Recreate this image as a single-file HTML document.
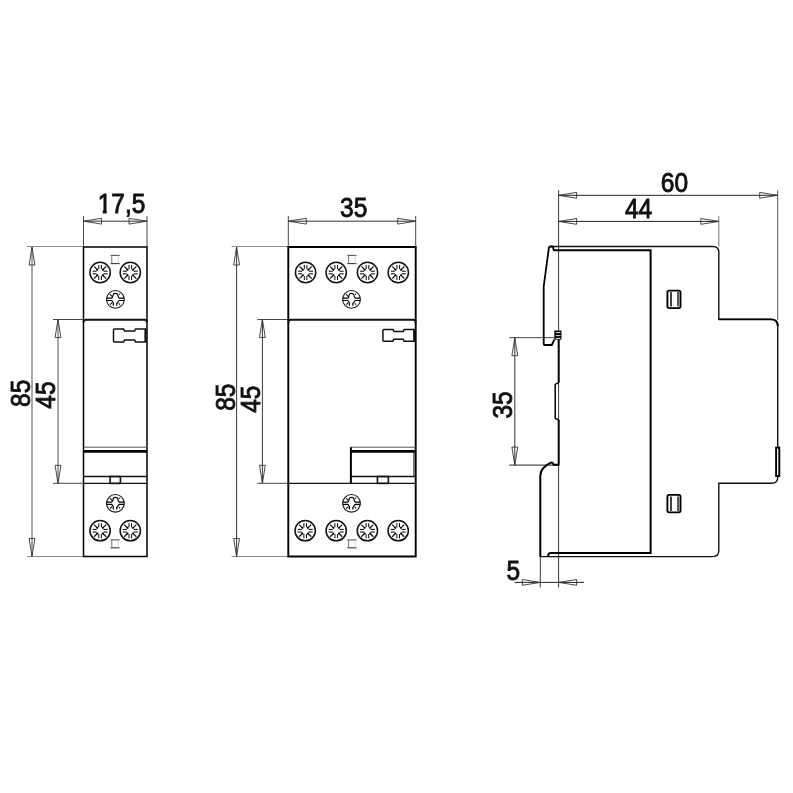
<!DOCTYPE html>
<html><head><meta charset="utf-8"><style>
html,body{margin:0;padding:0;background:#fff;width:793px;height:793px;overflow:hidden}
svg{display:block;will-change:transform}
text{font-family:"Liberation Sans",sans-serif}
</style></head><body>
<svg width="793" height="793" viewBox="0 0 793 793">
<rect width="793" height="793" fill="#fff"/>
<line x1="27" y1="246.5" x2="83.5" y2="246.5" stroke="#8a8a8a" stroke-width="1"/>
<line x1="27" y1="556.5" x2="83.5" y2="556.5" stroke="#8a8a8a" stroke-width="1"/>
<line x1="32" y1="247" x2="32" y2="556.5" stroke="#555" stroke-width="1"/>
<path d="M29.10,265.00 L32.00,247.00 L34.90,265.00 Z" fill="none" stroke="#333" stroke-width="0.9" stroke-linejoin="miter"/>
<path d="M29.10,538.50 L32.00,556.50 L34.90,538.50 Z" fill="none" stroke="#333" stroke-width="0.9" stroke-linejoin="miter"/>
<line x1="53" y1="319.5" x2="83.5" y2="319.5" stroke="#444" stroke-width="1"/>
<line x1="53" y1="483.3" x2="83.5" y2="483.3" stroke="#444" stroke-width="1"/>
<line x1="58" y1="319.5" x2="58" y2="483.3" stroke="#555" stroke-width="1"/>
<path d="M55.10,337.50 L58.00,319.50 L60.90,337.50 Z" fill="none" stroke="#333" stroke-width="0.9" stroke-linejoin="miter"/>
<path d="M55.10,465.30 L58.00,483.30 L60.90,465.30 Z" fill="none" stroke="#333" stroke-width="0.9" stroke-linejoin="miter"/>
<text x="0" y="0" transform="translate(29.8,393.3) rotate(-90) scale(1,1.1)" font-size="24.5" text-anchor="middle" fill="#111" stroke="#111" stroke-width="0.8">85</text>
<text x="0" y="0" transform="translate(55,395) rotate(-90) scale(1,1.1)" font-size="24.5" text-anchor="middle" fill="#111" stroke="#111" stroke-width="0.8">45</text>
<line x1="83.5" y1="216" x2="83.5" y2="247" stroke="#333" stroke-width="0.9"/>
<line x1="147" y1="216" x2="147" y2="247" stroke="#333" stroke-width="0.9"/>
<line x1="83.5" y1="221.2" x2="147" y2="221.2" stroke="#333" stroke-width="1"/>
<path d="M101.50,218.30 L83.50,221.20 L101.50,224.10 Z" fill="none" stroke="#333" stroke-width="0.9" stroke-linejoin="miter"/>
<path d="M129.00,218.30 L147.00,221.20 L129.00,224.10 Z" fill="none" stroke="#333" stroke-width="0.9" stroke-linejoin="miter"/>
<path d="M83.5,247 L147,247 L147,556.5 L83.5,556.5 Z" fill="none" stroke="#000" stroke-width="1.5"/>
<g transform="translate(100.1,272.5)">
<circle r="10.15" fill="none" stroke="#111" stroke-width="1.5"/>
<line x1="3.40" y1="-1.30" x2="7.50" y2="-1.30" stroke="#000" stroke-width="1.0"/>
<line x1="3.40" y1="1.30" x2="7.50" y2="1.30" stroke="#000" stroke-width="1.0"/>
<line x1="-3.40" y1="1.30" x2="-7.50" y2="1.30" stroke="#000" stroke-width="1.0"/>
<line x1="-3.40" y1="-1.30" x2="-7.50" y2="-1.30" stroke="#000" stroke-width="1.0"/>
<line x1="1.30" y1="3.40" x2="1.30" y2="7.50" stroke="#000" stroke-width="1.0"/>
<line x1="-1.30" y1="3.40" x2="-1.30" y2="7.50" stroke="#000" stroke-width="1.0"/>
<line x1="-1.30" y1="-3.40" x2="-1.30" y2="-7.50" stroke="#000" stroke-width="1.0"/>
<line x1="1.30" y1="-3.40" x2="1.30" y2="-7.50" stroke="#000" stroke-width="1.0"/>
<line x1="2.26" y1="2.26" x2="6.08" y2="6.08" stroke="#111" stroke-width="1.2"/>
<circle cx="2.83" cy="2.83" r="1.0" fill="#000"/>
<line x1="-2.26" y1="2.26" x2="-6.08" y2="6.08" stroke="#111" stroke-width="1.2"/>
<circle cx="-2.83" cy="2.83" r="1.0" fill="#000"/>
<line x1="-2.26" y1="-2.26" x2="-6.08" y2="-6.08" stroke="#111" stroke-width="1.2"/>
<circle cx="-2.83" cy="-2.83" r="1.0" fill="#000"/>
<line x1="2.26" y1="-2.26" x2="6.08" y2="-6.08" stroke="#111" stroke-width="1.2"/>
<circle cx="2.83" cy="-2.83" r="1.0" fill="#000"/>
</g>
<g transform="translate(130.3,272.5)">
<circle r="10.15" fill="none" stroke="#111" stroke-width="1.5"/>
<line x1="3.40" y1="-1.30" x2="7.50" y2="-1.30" stroke="#000" stroke-width="1.0"/>
<line x1="3.40" y1="1.30" x2="7.50" y2="1.30" stroke="#000" stroke-width="1.0"/>
<line x1="-3.40" y1="1.30" x2="-7.50" y2="1.30" stroke="#000" stroke-width="1.0"/>
<line x1="-3.40" y1="-1.30" x2="-7.50" y2="-1.30" stroke="#000" stroke-width="1.0"/>
<line x1="1.30" y1="3.40" x2="1.30" y2="7.50" stroke="#000" stroke-width="1.0"/>
<line x1="-1.30" y1="3.40" x2="-1.30" y2="7.50" stroke="#000" stroke-width="1.0"/>
<line x1="-1.30" y1="-3.40" x2="-1.30" y2="-7.50" stroke="#000" stroke-width="1.0"/>
<line x1="1.30" y1="-3.40" x2="1.30" y2="-7.50" stroke="#000" stroke-width="1.0"/>
<line x1="2.26" y1="2.26" x2="6.08" y2="6.08" stroke="#111" stroke-width="1.2"/>
<circle cx="2.83" cy="2.83" r="1.0" fill="#000"/>
<line x1="-2.26" y1="2.26" x2="-6.08" y2="6.08" stroke="#111" stroke-width="1.2"/>
<circle cx="-2.83" cy="2.83" r="1.0" fill="#000"/>
<line x1="-2.26" y1="-2.26" x2="-6.08" y2="-6.08" stroke="#111" stroke-width="1.2"/>
<circle cx="-2.83" cy="-2.83" r="1.0" fill="#000"/>
<line x1="2.26" y1="-2.26" x2="6.08" y2="-6.08" stroke="#111" stroke-width="1.2"/>
<circle cx="2.83" cy="-2.83" r="1.0" fill="#000"/>
</g>
<g transform="translate(100.1,530.7)">
<circle r="10.15" fill="none" stroke="#111" stroke-width="1.5"/>
<line x1="3.40" y1="-1.30" x2="7.50" y2="-1.30" stroke="#000" stroke-width="1.0"/>
<line x1="3.40" y1="1.30" x2="7.50" y2="1.30" stroke="#000" stroke-width="1.0"/>
<line x1="-3.40" y1="1.30" x2="-7.50" y2="1.30" stroke="#000" stroke-width="1.0"/>
<line x1="-3.40" y1="-1.30" x2="-7.50" y2="-1.30" stroke="#000" stroke-width="1.0"/>
<line x1="1.30" y1="3.40" x2="1.30" y2="7.50" stroke="#000" stroke-width="1.0"/>
<line x1="-1.30" y1="3.40" x2="-1.30" y2="7.50" stroke="#000" stroke-width="1.0"/>
<line x1="-1.30" y1="-3.40" x2="-1.30" y2="-7.50" stroke="#000" stroke-width="1.0"/>
<line x1="1.30" y1="-3.40" x2="1.30" y2="-7.50" stroke="#000" stroke-width="1.0"/>
<line x1="2.26" y1="2.26" x2="6.08" y2="6.08" stroke="#111" stroke-width="1.2"/>
<circle cx="2.83" cy="2.83" r="1.0" fill="#000"/>
<line x1="-2.26" y1="2.26" x2="-6.08" y2="6.08" stroke="#111" stroke-width="1.2"/>
<circle cx="-2.83" cy="2.83" r="1.0" fill="#000"/>
<line x1="-2.26" y1="-2.26" x2="-6.08" y2="-6.08" stroke="#111" stroke-width="1.2"/>
<circle cx="-2.83" cy="-2.83" r="1.0" fill="#000"/>
<line x1="2.26" y1="-2.26" x2="6.08" y2="-6.08" stroke="#111" stroke-width="1.2"/>
<circle cx="2.83" cy="-2.83" r="1.0" fill="#000"/>
</g>
<g transform="translate(130.3,530.7)">
<circle r="10.15" fill="none" stroke="#111" stroke-width="1.5"/>
<line x1="3.40" y1="-1.30" x2="7.50" y2="-1.30" stroke="#000" stroke-width="1.0"/>
<line x1="3.40" y1="1.30" x2="7.50" y2="1.30" stroke="#000" stroke-width="1.0"/>
<line x1="-3.40" y1="1.30" x2="-7.50" y2="1.30" stroke="#000" stroke-width="1.0"/>
<line x1="-3.40" y1="-1.30" x2="-7.50" y2="-1.30" stroke="#000" stroke-width="1.0"/>
<line x1="1.30" y1="3.40" x2="1.30" y2="7.50" stroke="#000" stroke-width="1.0"/>
<line x1="-1.30" y1="3.40" x2="-1.30" y2="7.50" stroke="#000" stroke-width="1.0"/>
<line x1="-1.30" y1="-3.40" x2="-1.30" y2="-7.50" stroke="#000" stroke-width="1.0"/>
<line x1="1.30" y1="-3.40" x2="1.30" y2="-7.50" stroke="#000" stroke-width="1.0"/>
<line x1="2.26" y1="2.26" x2="6.08" y2="6.08" stroke="#111" stroke-width="1.2"/>
<circle cx="2.83" cy="2.83" r="1.0" fill="#000"/>
<line x1="-2.26" y1="2.26" x2="-6.08" y2="6.08" stroke="#111" stroke-width="1.2"/>
<circle cx="-2.83" cy="2.83" r="1.0" fill="#000"/>
<line x1="-2.26" y1="-2.26" x2="-6.08" y2="-6.08" stroke="#111" stroke-width="1.2"/>
<circle cx="-2.83" cy="-2.83" r="1.0" fill="#000"/>
<line x1="2.26" y1="-2.26" x2="6.08" y2="-6.08" stroke="#111" stroke-width="1.2"/>
<circle cx="2.83" cy="-2.83" r="1.0" fill="#000"/>
</g>
<line x1="110.5" y1="255.4" x2="119.8" y2="255.4" stroke="#555" stroke-width="1.1"/>
<line x1="110.5" y1="263.59999999999997" x2="119.8" y2="263.59999999999997" stroke="#333" stroke-width="1.1"/>
<line x1="111.8" y1="255.4" x2="111.8" y2="263.59999999999997" stroke="#777" stroke-width="1.0"/>
<line x1="118.39999999999999" y1="255.4" x2="118.39999999999999" y2="263.59999999999997" stroke="#ccc" stroke-width="0.8"/>
<line x1="110.5" y1="539.9" x2="119.8" y2="539.9" stroke="#555" stroke-width="1.1"/>
<line x1="110.5" y1="547.8000000000001" x2="119.8" y2="547.8000000000001" stroke="#333" stroke-width="1.1"/>
<line x1="111.8" y1="539.9" x2="111.8" y2="547.8000000000001" stroke="#777" stroke-width="1.0"/>
<line x1="118.39999999999999" y1="539.9" x2="118.39999999999999" y2="547.8000000000001" stroke="#ccc" stroke-width="0.8"/>
<g transform="translate(115.4,299.4)">
<circle r="8.85" fill="none" stroke="#1a1a1a" stroke-width="1.1"/>
<path d="M-8.9,-1.2 L-3.6,-1.2 Q-2.5,-2 -2.3,-4.4 Q-2.2,-6 0,-6 Q2.2,-6 2.4,-4.4 Q2.7,-2 3.8,-1.2 L8.9,-1.2" fill="none" stroke="#000" stroke-width="1.2"/>
<path d="M-8.9,1.1 L-3.6,1.1 L-1.9,3.8 M8.9,1.1 L3.7,1.1 L1.7,3.8 M-2.1,3.6 L-2.1,6.3 M1.3,3.6 L1.3,6.3" fill="none" stroke="#000" stroke-width="1.2"/>
<path d="M-5.6,-5.2 L-2.9,-2.6 M-5.3,5.3 L-3.3,3.3 M3.6,3.8 L4.4,5.3" fill="none" stroke="#111" stroke-width="1.1"/>
<circle cx="4.1" cy="-5.1" r="0.7" fill="#111"/>
</g>
<g transform="translate(115.4,503.3)">
<circle r="8.85" fill="none" stroke="#1a1a1a" stroke-width="1.1"/>
<path d="M-8.9,-1.2 L-3.6,-1.2 Q-2.5,-2 -2.3,-4.4 Q-2.2,-6 0,-6 Q2.2,-6 2.4,-4.4 Q2.7,-2 3.8,-1.2 L8.9,-1.2" fill="none" stroke="#000" stroke-width="1.2"/>
<path d="M-8.9,1.1 L-3.6,1.1 L-1.9,3.8 M8.9,1.1 L3.7,1.1 L1.7,3.8 M-2.1,3.6 L-2.1,6.3 M1.3,3.6 L1.3,6.3" fill="none" stroke="#000" stroke-width="1.2"/>
<path d="M-5.6,-5.2 L-2.9,-2.6 M-5.3,5.3 L-3.3,3.3 M3.6,3.8 L4.4,5.3" fill="none" stroke="#111" stroke-width="1.1"/>
<circle cx="4.1" cy="-5.1" r="0.7" fill="#111"/>
</g>
<path d="M83.5,322.5 Q83.5,319.8 86.0,319.8 L144.5,319.8 Q147,319.8 147,322.5" fill="none" stroke="#111" stroke-width="2"/>
<path d="M146.5,329 L135.6,329 L134.6,331 L124.6,331 L123.6,329 L114.5,329 Q113.5,329 113.5,330 L113.5,341 Q113.5,342 114.5,342 L123.6,342 L124.6,340 L134.6,340 L135.6,342 L146.5,342" fill="none" stroke="#111" stroke-width="1.5"/>
<line x1="145.5" y1="329" x2="145.5" y2="342" stroke="#111" stroke-width="2.2"/>
<line x1="83.5" y1="447.2" x2="147" y2="447.2" stroke="#555" stroke-width="1"/>
<line x1="83.5" y1="451.4" x2="147" y2="451.4" stroke="#000" stroke-width="2.8"/>
<line x1="83.5" y1="476.5" x2="147" y2="476.5" stroke="#111" stroke-width="1.3"/>
<line x1="83.5" y1="483.4" x2="147" y2="483.4" stroke="#111" stroke-width="1.4"/>
<rect x="110.1" y="476.5" width="10.300000000000011" height="6.9" fill="none" stroke="#111" stroke-width="1.6"/>
<line x1="231.6" y1="246.5" x2="288.3" y2="246.5" stroke="#8a8a8a" stroke-width="1"/>
<line x1="231.6" y1="556.5" x2="288.3" y2="556.5" stroke="#8a8a8a" stroke-width="1"/>
<line x1="236.6" y1="247" x2="236.6" y2="556.5" stroke="#3a3a3a" stroke-width="1"/>
<path d="M233.70,265.00 L236.60,247.00 L239.50,265.00 Z" fill="none" stroke="#333" stroke-width="0.9" stroke-linejoin="miter"/>
<path d="M233.70,538.50 L236.60,556.50 L239.50,538.50 Z" fill="none" stroke="#333" stroke-width="0.9" stroke-linejoin="miter"/>
<line x1="257.4" y1="319.5" x2="288.3" y2="319.5" stroke="#444" stroke-width="1"/>
<line x1="257.4" y1="483.3" x2="288.3" y2="483.3" stroke="#444" stroke-width="1"/>
<line x1="262.4" y1="319.5" x2="262.4" y2="483.3" stroke="#3a3a3a" stroke-width="1"/>
<path d="M259.50,337.50 L262.40,319.50 L265.30,337.50 Z" fill="none" stroke="#333" stroke-width="0.9" stroke-linejoin="miter"/>
<path d="M259.50,465.30 L262.40,483.30 L265.30,465.30 Z" fill="none" stroke="#333" stroke-width="0.9" stroke-linejoin="miter"/>
<text x="0" y="0" transform="translate(234.5,397.2) rotate(-90) scale(1,1.1)" font-size="24.5" text-anchor="middle" fill="#111" stroke="#111" stroke-width="0.8">85</text>
<text x="0" y="0" transform="translate(259.7,399.2) rotate(-90) scale(1,1.1)" font-size="24.5" text-anchor="middle" fill="#111" stroke="#111" stroke-width="0.8">45</text>
<line x1="288.3" y1="216" x2="288.3" y2="247" stroke="#333" stroke-width="0.9"/>
<line x1="415.7" y1="216" x2="415.7" y2="247" stroke="#333" stroke-width="0.9"/>
<line x1="288.3" y1="221.2" x2="415.7" y2="221.2" stroke="#333" stroke-width="1"/>
<path d="M306.30,218.30 L288.30,221.20 L306.30,224.10 Z" fill="none" stroke="#333" stroke-width="0.9" stroke-linejoin="miter"/>
<path d="M397.70,218.30 L415.70,221.20 L397.70,224.10 Z" fill="none" stroke="#333" stroke-width="0.9" stroke-linejoin="miter"/>
<path d="M288.3,247 L415.7,247 L415.7,556.5 L288.3,556.5 Z" fill="none" stroke="#000" stroke-width="1.9"/>
<g transform="translate(305.6,272.5)">
<circle r="10.15" fill="none" stroke="#111" stroke-width="1.5"/>
<line x1="3.40" y1="-1.30" x2="7.50" y2="-1.30" stroke="#000" stroke-width="1.0"/>
<line x1="3.40" y1="1.30" x2="7.50" y2="1.30" stroke="#000" stroke-width="1.0"/>
<line x1="-3.40" y1="1.30" x2="-7.50" y2="1.30" stroke="#000" stroke-width="1.0"/>
<line x1="-3.40" y1="-1.30" x2="-7.50" y2="-1.30" stroke="#000" stroke-width="1.0"/>
<line x1="1.30" y1="3.40" x2="1.30" y2="7.50" stroke="#000" stroke-width="1.0"/>
<line x1="-1.30" y1="3.40" x2="-1.30" y2="7.50" stroke="#000" stroke-width="1.0"/>
<line x1="-1.30" y1="-3.40" x2="-1.30" y2="-7.50" stroke="#000" stroke-width="1.0"/>
<line x1="1.30" y1="-3.40" x2="1.30" y2="-7.50" stroke="#000" stroke-width="1.0"/>
<line x1="2.26" y1="2.26" x2="6.08" y2="6.08" stroke="#111" stroke-width="1.2"/>
<circle cx="2.83" cy="2.83" r="1.0" fill="#000"/>
<line x1="-2.26" y1="2.26" x2="-6.08" y2="6.08" stroke="#111" stroke-width="1.2"/>
<circle cx="-2.83" cy="2.83" r="1.0" fill="#000"/>
<line x1="-2.26" y1="-2.26" x2="-6.08" y2="-6.08" stroke="#111" stroke-width="1.2"/>
<circle cx="-2.83" cy="-2.83" r="1.0" fill="#000"/>
<line x1="2.26" y1="-2.26" x2="6.08" y2="-6.08" stroke="#111" stroke-width="1.2"/>
<circle cx="2.83" cy="-2.83" r="1.0" fill="#000"/>
</g>
<g transform="translate(336.2,272.5)">
<circle r="10.15" fill="none" stroke="#111" stroke-width="1.5"/>
<line x1="3.40" y1="-1.30" x2="7.50" y2="-1.30" stroke="#000" stroke-width="1.0"/>
<line x1="3.40" y1="1.30" x2="7.50" y2="1.30" stroke="#000" stroke-width="1.0"/>
<line x1="-3.40" y1="1.30" x2="-7.50" y2="1.30" stroke="#000" stroke-width="1.0"/>
<line x1="-3.40" y1="-1.30" x2="-7.50" y2="-1.30" stroke="#000" stroke-width="1.0"/>
<line x1="1.30" y1="3.40" x2="1.30" y2="7.50" stroke="#000" stroke-width="1.0"/>
<line x1="-1.30" y1="3.40" x2="-1.30" y2="7.50" stroke="#000" stroke-width="1.0"/>
<line x1="-1.30" y1="-3.40" x2="-1.30" y2="-7.50" stroke="#000" stroke-width="1.0"/>
<line x1="1.30" y1="-3.40" x2="1.30" y2="-7.50" stroke="#000" stroke-width="1.0"/>
<line x1="2.26" y1="2.26" x2="6.08" y2="6.08" stroke="#111" stroke-width="1.2"/>
<circle cx="2.83" cy="2.83" r="1.0" fill="#000"/>
<line x1="-2.26" y1="2.26" x2="-6.08" y2="6.08" stroke="#111" stroke-width="1.2"/>
<circle cx="-2.83" cy="2.83" r="1.0" fill="#000"/>
<line x1="-2.26" y1="-2.26" x2="-6.08" y2="-6.08" stroke="#111" stroke-width="1.2"/>
<circle cx="-2.83" cy="-2.83" r="1.0" fill="#000"/>
<line x1="2.26" y1="-2.26" x2="6.08" y2="-6.08" stroke="#111" stroke-width="1.2"/>
<circle cx="2.83" cy="-2.83" r="1.0" fill="#000"/>
</g>
<g transform="translate(367.5,272.5)">
<circle r="10.15" fill="none" stroke="#111" stroke-width="1.5"/>
<line x1="3.40" y1="-1.30" x2="7.50" y2="-1.30" stroke="#000" stroke-width="1.0"/>
<line x1="3.40" y1="1.30" x2="7.50" y2="1.30" stroke="#000" stroke-width="1.0"/>
<line x1="-3.40" y1="1.30" x2="-7.50" y2="1.30" stroke="#000" stroke-width="1.0"/>
<line x1="-3.40" y1="-1.30" x2="-7.50" y2="-1.30" stroke="#000" stroke-width="1.0"/>
<line x1="1.30" y1="3.40" x2="1.30" y2="7.50" stroke="#000" stroke-width="1.0"/>
<line x1="-1.30" y1="3.40" x2="-1.30" y2="7.50" stroke="#000" stroke-width="1.0"/>
<line x1="-1.30" y1="-3.40" x2="-1.30" y2="-7.50" stroke="#000" stroke-width="1.0"/>
<line x1="1.30" y1="-3.40" x2="1.30" y2="-7.50" stroke="#000" stroke-width="1.0"/>
<line x1="2.26" y1="2.26" x2="6.08" y2="6.08" stroke="#111" stroke-width="1.2"/>
<circle cx="2.83" cy="2.83" r="1.0" fill="#000"/>
<line x1="-2.26" y1="2.26" x2="-6.08" y2="6.08" stroke="#111" stroke-width="1.2"/>
<circle cx="-2.83" cy="2.83" r="1.0" fill="#000"/>
<line x1="-2.26" y1="-2.26" x2="-6.08" y2="-6.08" stroke="#111" stroke-width="1.2"/>
<circle cx="-2.83" cy="-2.83" r="1.0" fill="#000"/>
<line x1="2.26" y1="-2.26" x2="6.08" y2="-6.08" stroke="#111" stroke-width="1.2"/>
<circle cx="2.83" cy="-2.83" r="1.0" fill="#000"/>
</g>
<g transform="translate(398.3,272.5)">
<circle r="10.15" fill="none" stroke="#111" stroke-width="1.5"/>
<line x1="3.40" y1="-1.30" x2="7.50" y2="-1.30" stroke="#000" stroke-width="1.0"/>
<line x1="3.40" y1="1.30" x2="7.50" y2="1.30" stroke="#000" stroke-width="1.0"/>
<line x1="-3.40" y1="1.30" x2="-7.50" y2="1.30" stroke="#000" stroke-width="1.0"/>
<line x1="-3.40" y1="-1.30" x2="-7.50" y2="-1.30" stroke="#000" stroke-width="1.0"/>
<line x1="1.30" y1="3.40" x2="1.30" y2="7.50" stroke="#000" stroke-width="1.0"/>
<line x1="-1.30" y1="3.40" x2="-1.30" y2="7.50" stroke="#000" stroke-width="1.0"/>
<line x1="-1.30" y1="-3.40" x2="-1.30" y2="-7.50" stroke="#000" stroke-width="1.0"/>
<line x1="1.30" y1="-3.40" x2="1.30" y2="-7.50" stroke="#000" stroke-width="1.0"/>
<line x1="2.26" y1="2.26" x2="6.08" y2="6.08" stroke="#111" stroke-width="1.2"/>
<circle cx="2.83" cy="2.83" r="1.0" fill="#000"/>
<line x1="-2.26" y1="2.26" x2="-6.08" y2="6.08" stroke="#111" stroke-width="1.2"/>
<circle cx="-2.83" cy="2.83" r="1.0" fill="#000"/>
<line x1="-2.26" y1="-2.26" x2="-6.08" y2="-6.08" stroke="#111" stroke-width="1.2"/>
<circle cx="-2.83" cy="-2.83" r="1.0" fill="#000"/>
<line x1="2.26" y1="-2.26" x2="6.08" y2="-6.08" stroke="#111" stroke-width="1.2"/>
<circle cx="2.83" cy="-2.83" r="1.0" fill="#000"/>
</g>
<g transform="translate(305.2,530.7)">
<circle r="10.15" fill="none" stroke="#111" stroke-width="1.5"/>
<line x1="3.40" y1="-1.30" x2="7.50" y2="-1.30" stroke="#000" stroke-width="1.0"/>
<line x1="3.40" y1="1.30" x2="7.50" y2="1.30" stroke="#000" stroke-width="1.0"/>
<line x1="-3.40" y1="1.30" x2="-7.50" y2="1.30" stroke="#000" stroke-width="1.0"/>
<line x1="-3.40" y1="-1.30" x2="-7.50" y2="-1.30" stroke="#000" stroke-width="1.0"/>
<line x1="1.30" y1="3.40" x2="1.30" y2="7.50" stroke="#000" stroke-width="1.0"/>
<line x1="-1.30" y1="3.40" x2="-1.30" y2="7.50" stroke="#000" stroke-width="1.0"/>
<line x1="-1.30" y1="-3.40" x2="-1.30" y2="-7.50" stroke="#000" stroke-width="1.0"/>
<line x1="1.30" y1="-3.40" x2="1.30" y2="-7.50" stroke="#000" stroke-width="1.0"/>
<line x1="2.26" y1="2.26" x2="6.08" y2="6.08" stroke="#111" stroke-width="1.2"/>
<circle cx="2.83" cy="2.83" r="1.0" fill="#000"/>
<line x1="-2.26" y1="2.26" x2="-6.08" y2="6.08" stroke="#111" stroke-width="1.2"/>
<circle cx="-2.83" cy="2.83" r="1.0" fill="#000"/>
<line x1="-2.26" y1="-2.26" x2="-6.08" y2="-6.08" stroke="#111" stroke-width="1.2"/>
<circle cx="-2.83" cy="-2.83" r="1.0" fill="#000"/>
<line x1="2.26" y1="-2.26" x2="6.08" y2="-6.08" stroke="#111" stroke-width="1.2"/>
<circle cx="2.83" cy="-2.83" r="1.0" fill="#000"/>
</g>
<g transform="translate(336.2,530.7)">
<circle r="10.15" fill="none" stroke="#111" stroke-width="1.5"/>
<line x1="3.40" y1="-1.30" x2="7.50" y2="-1.30" stroke="#000" stroke-width="1.0"/>
<line x1="3.40" y1="1.30" x2="7.50" y2="1.30" stroke="#000" stroke-width="1.0"/>
<line x1="-3.40" y1="1.30" x2="-7.50" y2="1.30" stroke="#000" stroke-width="1.0"/>
<line x1="-3.40" y1="-1.30" x2="-7.50" y2="-1.30" stroke="#000" stroke-width="1.0"/>
<line x1="1.30" y1="3.40" x2="1.30" y2="7.50" stroke="#000" stroke-width="1.0"/>
<line x1="-1.30" y1="3.40" x2="-1.30" y2="7.50" stroke="#000" stroke-width="1.0"/>
<line x1="-1.30" y1="-3.40" x2="-1.30" y2="-7.50" stroke="#000" stroke-width="1.0"/>
<line x1="1.30" y1="-3.40" x2="1.30" y2="-7.50" stroke="#000" stroke-width="1.0"/>
<line x1="2.26" y1="2.26" x2="6.08" y2="6.08" stroke="#111" stroke-width="1.2"/>
<circle cx="2.83" cy="2.83" r="1.0" fill="#000"/>
<line x1="-2.26" y1="2.26" x2="-6.08" y2="6.08" stroke="#111" stroke-width="1.2"/>
<circle cx="-2.83" cy="2.83" r="1.0" fill="#000"/>
<line x1="-2.26" y1="-2.26" x2="-6.08" y2="-6.08" stroke="#111" stroke-width="1.2"/>
<circle cx="-2.83" cy="-2.83" r="1.0" fill="#000"/>
<line x1="2.26" y1="-2.26" x2="6.08" y2="-6.08" stroke="#111" stroke-width="1.2"/>
<circle cx="2.83" cy="-2.83" r="1.0" fill="#000"/>
</g>
<g transform="translate(367.4,530.7)">
<circle r="10.15" fill="none" stroke="#111" stroke-width="1.5"/>
<line x1="3.40" y1="-1.30" x2="7.50" y2="-1.30" stroke="#000" stroke-width="1.0"/>
<line x1="3.40" y1="1.30" x2="7.50" y2="1.30" stroke="#000" stroke-width="1.0"/>
<line x1="-3.40" y1="1.30" x2="-7.50" y2="1.30" stroke="#000" stroke-width="1.0"/>
<line x1="-3.40" y1="-1.30" x2="-7.50" y2="-1.30" stroke="#000" stroke-width="1.0"/>
<line x1="1.30" y1="3.40" x2="1.30" y2="7.50" stroke="#000" stroke-width="1.0"/>
<line x1="-1.30" y1="3.40" x2="-1.30" y2="7.50" stroke="#000" stroke-width="1.0"/>
<line x1="-1.30" y1="-3.40" x2="-1.30" y2="-7.50" stroke="#000" stroke-width="1.0"/>
<line x1="1.30" y1="-3.40" x2="1.30" y2="-7.50" stroke="#000" stroke-width="1.0"/>
<line x1="2.26" y1="2.26" x2="6.08" y2="6.08" stroke="#111" stroke-width="1.2"/>
<circle cx="2.83" cy="2.83" r="1.0" fill="#000"/>
<line x1="-2.26" y1="2.26" x2="-6.08" y2="6.08" stroke="#111" stroke-width="1.2"/>
<circle cx="-2.83" cy="2.83" r="1.0" fill="#000"/>
<line x1="-2.26" y1="-2.26" x2="-6.08" y2="-6.08" stroke="#111" stroke-width="1.2"/>
<circle cx="-2.83" cy="-2.83" r="1.0" fill="#000"/>
<line x1="2.26" y1="-2.26" x2="6.08" y2="-6.08" stroke="#111" stroke-width="1.2"/>
<circle cx="2.83" cy="-2.83" r="1.0" fill="#000"/>
</g>
<g transform="translate(398.2,530.7)">
<circle r="10.15" fill="none" stroke="#111" stroke-width="1.5"/>
<line x1="3.40" y1="-1.30" x2="7.50" y2="-1.30" stroke="#000" stroke-width="1.0"/>
<line x1="3.40" y1="1.30" x2="7.50" y2="1.30" stroke="#000" stroke-width="1.0"/>
<line x1="-3.40" y1="1.30" x2="-7.50" y2="1.30" stroke="#000" stroke-width="1.0"/>
<line x1="-3.40" y1="-1.30" x2="-7.50" y2="-1.30" stroke="#000" stroke-width="1.0"/>
<line x1="1.30" y1="3.40" x2="1.30" y2="7.50" stroke="#000" stroke-width="1.0"/>
<line x1="-1.30" y1="3.40" x2="-1.30" y2="7.50" stroke="#000" stroke-width="1.0"/>
<line x1="-1.30" y1="-3.40" x2="-1.30" y2="-7.50" stroke="#000" stroke-width="1.0"/>
<line x1="1.30" y1="-3.40" x2="1.30" y2="-7.50" stroke="#000" stroke-width="1.0"/>
<line x1="2.26" y1="2.26" x2="6.08" y2="6.08" stroke="#111" stroke-width="1.2"/>
<circle cx="2.83" cy="2.83" r="1.0" fill="#000"/>
<line x1="-2.26" y1="2.26" x2="-6.08" y2="6.08" stroke="#111" stroke-width="1.2"/>
<circle cx="-2.83" cy="2.83" r="1.0" fill="#000"/>
<line x1="-2.26" y1="-2.26" x2="-6.08" y2="-6.08" stroke="#111" stroke-width="1.2"/>
<circle cx="-2.83" cy="-2.83" r="1.0" fill="#000"/>
<line x1="2.26" y1="-2.26" x2="6.08" y2="-6.08" stroke="#111" stroke-width="1.2"/>
<circle cx="2.83" cy="-2.83" r="1.0" fill="#000"/>
</g>
<line x1="347.3" y1="255.4" x2="356.6" y2="255.4" stroke="#555" stroke-width="1.1"/>
<line x1="347.3" y1="263.59999999999997" x2="356.6" y2="263.59999999999997" stroke="#333" stroke-width="1.1"/>
<line x1="348.6" y1="255.4" x2="348.6" y2="263.59999999999997" stroke="#777" stroke-width="1.0"/>
<line x1="355.20000000000005" y1="255.4" x2="355.20000000000005" y2="263.59999999999997" stroke="#ccc" stroke-width="0.8"/>
<line x1="347.3" y1="539.9" x2="356.6" y2="539.9" stroke="#555" stroke-width="1.1"/>
<line x1="347.3" y1="547.8000000000001" x2="356.6" y2="547.8000000000001" stroke="#333" stroke-width="1.1"/>
<line x1="348.6" y1="539.9" x2="348.6" y2="547.8000000000001" stroke="#777" stroke-width="1.0"/>
<line x1="355.20000000000005" y1="539.9" x2="355.20000000000005" y2="547.8000000000001" stroke="#ccc" stroke-width="0.8"/>
<g transform="translate(351.5,299.4)">
<circle r="8.85" fill="none" stroke="#1a1a1a" stroke-width="1.1"/>
<path d="M-8.9,-1.2 L-3.6,-1.2 Q-2.5,-2 -2.3,-4.4 Q-2.2,-6 0,-6 Q2.2,-6 2.4,-4.4 Q2.7,-2 3.8,-1.2 L8.9,-1.2" fill="none" stroke="#000" stroke-width="1.2"/>
<path d="M-8.9,1.1 L-3.6,1.1 L-1.9,3.8 M8.9,1.1 L3.7,1.1 L1.7,3.8 M-2.1,3.6 L-2.1,6.3 M1.3,3.6 L1.3,6.3" fill="none" stroke="#000" stroke-width="1.2"/>
<path d="M-5.6,-5.2 L-2.9,-2.6 M-5.3,5.3 L-3.3,3.3 M3.6,3.8 L4.4,5.3" fill="none" stroke="#111" stroke-width="1.1"/>
<circle cx="4.1" cy="-5.1" r="0.7" fill="#111"/>
</g>
<g transform="translate(351.5,503.3)">
<circle r="8.85" fill="none" stroke="#1a1a1a" stroke-width="1.1"/>
<path d="M-8.9,-1.2 L-3.6,-1.2 Q-2.5,-2 -2.3,-4.4 Q-2.2,-6 0,-6 Q2.2,-6 2.4,-4.4 Q2.7,-2 3.8,-1.2 L8.9,-1.2" fill="none" stroke="#000" stroke-width="1.2"/>
<path d="M-8.9,1.1 L-3.6,1.1 L-1.9,3.8 M8.9,1.1 L3.7,1.1 L1.7,3.8 M-2.1,3.6 L-2.1,6.3 M1.3,3.6 L1.3,6.3" fill="none" stroke="#000" stroke-width="1.2"/>
<path d="M-5.6,-5.2 L-2.9,-2.6 M-5.3,5.3 L-3.3,3.3 M3.6,3.8 L4.4,5.3" fill="none" stroke="#111" stroke-width="1.1"/>
<circle cx="4.1" cy="-5.1" r="0.7" fill="#111"/>
</g>
<path d="M288.3,322.5 Q288.3,319.8 290.8,319.8 L413.2,319.8 Q415.7,319.8 415.7,322.5" fill="none" stroke="#111" stroke-width="2"/>
<path d="M415.2,329.4 L404.2,329.4 L403.2,331.4 L393.9,331.4 L392.9,329.4 L383.9,329.4 Q382.9,329.4 382.9,330.4 L382.9,340.2 Q382.9,341.2 383.9,341.2 L392.9,341.2 L393.9,339.2 L403.2,339.2 L404.2,341.2 L415.2,341.2" fill="none" stroke="#111" stroke-width="1.5"/>
<line x1="414.2" y1="329.4" x2="414.2" y2="341.2" stroke="#111" stroke-width="2.2"/>
<line x1="350.9" y1="447.2" x2="415.7" y2="447.2" stroke="#555" stroke-width="1"/>
<line x1="350.9" y1="451.4" x2="415.7" y2="451.4" stroke="#000" stroke-width="2.8"/>
<line x1="350.9" y1="476.5" x2="415.7" y2="476.5" stroke="#111" stroke-width="1.3"/>
<line x1="288.3" y1="483.4" x2="415.7" y2="483.4" stroke="#111" stroke-width="1.4"/>
<line x1="350.9" y1="447.2" x2="350.9" y2="483.4" stroke="#000" stroke-width="2.0"/>
<line x1="413.9" y1="451.4" x2="413.9" y2="476.5" stroke="#222" stroke-width="1.1"/>
<rect x="377.4" y="476.5" width="11.0" height="6.9" fill="none" stroke="#111" stroke-width="1.6"/>
<text x="0" y="0" transform="translate(121.5,212.5) scale(1,1.1)" font-size="24.5" text-anchor="middle" fill="#111" stroke="#111" stroke-width="0.8">17,5</text>
<rect x="99" y="209.6" width="3.7" height="4.6" fill="#fff"/><rect x="106.7" y="209.6" width="4.9" height="4.6" fill="#fff"/>
<text x="0" y="0" transform="translate(353.7,216.6) scale(1,1.1)" font-size="24.5" text-anchor="middle" fill="#111" stroke="#111" stroke-width="0.8">35</text>
<line x1="558.6" y1="190.3" x2="558.6" y2="330.5" stroke="#222" stroke-width="0.9"/>
<line x1="558.6" y1="465" x2="558.6" y2="587.5" stroke="#222" stroke-width="0.9"/>
<line x1="540.3" y1="556.8" x2="540.3" y2="587.5" stroke="#222" stroke-width="0.9"/>
<line x1="718.8" y1="216" x2="718.8" y2="246.5" stroke="#666" stroke-width="0.9"/>
<line x1="777.7" y1="190.4" x2="777.7" y2="320" stroke="#444" stroke-width="0.9"/>
<line x1="558.6" y1="195.3" x2="777.7" y2="195.3" stroke="#222" stroke-width="1"/>
<path d="M576.60,192.40 L558.60,195.30 L576.60,198.20 Z" fill="none" stroke="#333" stroke-width="0.9" stroke-linejoin="miter"/>
<path d="M759.70,192.40 L777.70,195.30 L759.70,198.20 Z" fill="none" stroke="#333" stroke-width="0.9" stroke-linejoin="miter"/>
<line x1="558.6" y1="221.4" x2="718.8" y2="221.4" stroke="#222" stroke-width="1"/>
<path d="M576.60,218.50 L558.60,221.40 L576.60,224.30 Z" fill="none" stroke="#333" stroke-width="0.9" stroke-linejoin="miter"/>
<path d="M700.80,218.50 L718.80,221.40 L700.80,224.30 Z" fill="none" stroke="#333" stroke-width="0.9" stroke-linejoin="miter"/>
<text x="0" y="0" transform="translate(674.4,191.9) scale(1,1.1)" font-size="24.5" text-anchor="middle" fill="#111" stroke="#111" stroke-width="0.8">60</text>
<text x="0" y="0" transform="translate(638.6,217.8) scale(1,1.1)" font-size="24.5" text-anchor="middle" fill="#111" stroke="#111" stroke-width="0.8">44</text>
<line x1="509.2" y1="337.7" x2="554" y2="337.7" stroke="#444" stroke-width="1"/>
<line x1="509.2" y1="465.1" x2="558.6" y2="465.1" stroke="#222" stroke-width="1"/>
<line x1="514.8" y1="337.7" x2="514.8" y2="465.1" stroke="#333" stroke-width="1"/>
<path d="M511.90,355.70 L514.80,337.70 L517.70,355.70 Z" fill="none" stroke="#333" stroke-width="0.9" stroke-linejoin="miter"/>
<path d="M511.90,447.10 L514.80,465.10 L517.70,447.10 Z" fill="none" stroke="#333" stroke-width="0.9" stroke-linejoin="miter"/>
<text x="0" y="0" transform="translate(512,404.9) rotate(-90) scale(1,1.1)" font-size="24.5" text-anchor="middle" fill="#111" stroke="#111" stroke-width="0.8">35</text>
<line x1="514.6" y1="582.4" x2="584" y2="582.4" stroke="#222" stroke-width="1"/>
<path d="M522.30,579.50 L540.30,582.40 L522.30,585.30 Z" fill="none" stroke="#333" stroke-width="0.9" stroke-linejoin="miter"/>
<path d="M576.60,579.50 L558.60,582.40 L576.60,585.30 Z" fill="none" stroke="#333" stroke-width="0.9" stroke-linejoin="miter"/>
<text x="0" y="0" transform="translate(513.3,579.5) scale(1,1.1)" font-size="24.5" text-anchor="middle" fill="#111" stroke="#111" stroke-width="0.8">5</text>
<path d="M549,246.5 L712.8,246.5 Q718.8,246.5 718.8,252.5 L718.8,319.4 L771.7,319.4 Q777.7,319.4 777.7,325.4 L777.7,447.2 M777.7,476.3 L777.7,477.5 Q777.7,483.3 771.7,483.3 L718.8,483.3 L718.8,550.5 Q718.8,556.6 712.8,556.6 L540.3,556.6" fill="none" stroke="#111" stroke-width="1.4"/>
<rect x="776.1" y="447.6" width="3.2" height="28.4" fill="none" stroke="#000" stroke-width="1.9"/>
<path d="M718.8,319.4 L771,319.4 Q777.7,319.4 777.7,326" fill="none" stroke="#000" stroke-width="1.9"/>
<path d="M540.3,556.8 L540.3,476 Q540.3,468 550,463.2 Q552,461.8 553,463.5 L553.6,464.8 L558.7,464.8 L558.7,419.8 M558.7,382.8 L558.7,339.6" fill="none" stroke="#000" stroke-width="2" stroke-linejoin="round"/>
<path d="M554.3,339.6 L551.8,345 L545,345 Q543.7,345 543.7,343.7 L543.7,286.5 L548.8,248.5 Q549,246.5 551,246.5 L552.5,246.5 Q553.3,246.5 553.3,248 L553.3,249.2 Q553.5,250.2 555,250.2" fill="none" stroke="#000" stroke-width="1.8" stroke-linejoin="round"/>
<rect x="554.3" y="330.5" width="7.2" height="9.2" fill="#000"/>
<line x1="555.8" y1="332.6" x2="560.5" y2="332.6" stroke="#fff" stroke-width="0.9"/>
<line x1="555.8" y1="335.6" x2="560.5" y2="335.6" stroke="#fff" stroke-width="0.9"/>
<line x1="555.8" y1="338.4" x2="560.5" y2="338.4" stroke="#fff" stroke-width="0.9"/>
<path d="M558.7,420 L555.2,418.3 L555.2,384.3 L558.7,382.6" fill="none" stroke="#000" stroke-width="1.5" stroke-linejoin="round"/>
<line x1="558.6" y1="383" x2="558.6" y2="419.5" stroke="#222" stroke-width="0.9"/>
<path d="M553.3,250.2 L650.6,250.2 L650.6,552.9 L551,552.9 Q548.3,552.9 548.3,555 L548.3,556.8" fill="none" stroke="#000" stroke-width="2"/>
<rect x="667.4" y="290.6" width="13.1" height="17.5" rx="1.8" fill="none" stroke="#000" stroke-width="1.9"/>
<line x1="671" y1="292.1" x2="671" y2="306.6" stroke="#000" stroke-width="1.5"/>
<line x1="678" y1="292.1" x2="678" y2="306.6" stroke="#000" stroke-width="1.3"/>
<rect x="667.4" y="494.9" width="13.1" height="17.5" rx="1.8" fill="none" stroke="#000" stroke-width="1.9"/>
<line x1="671" y1="496.4" x2="671" y2="510.9" stroke="#000" stroke-width="1.5"/>
<line x1="678" y1="496.4" x2="678" y2="510.9" stroke="#000" stroke-width="1.3"/>
</svg>
</body></html>
